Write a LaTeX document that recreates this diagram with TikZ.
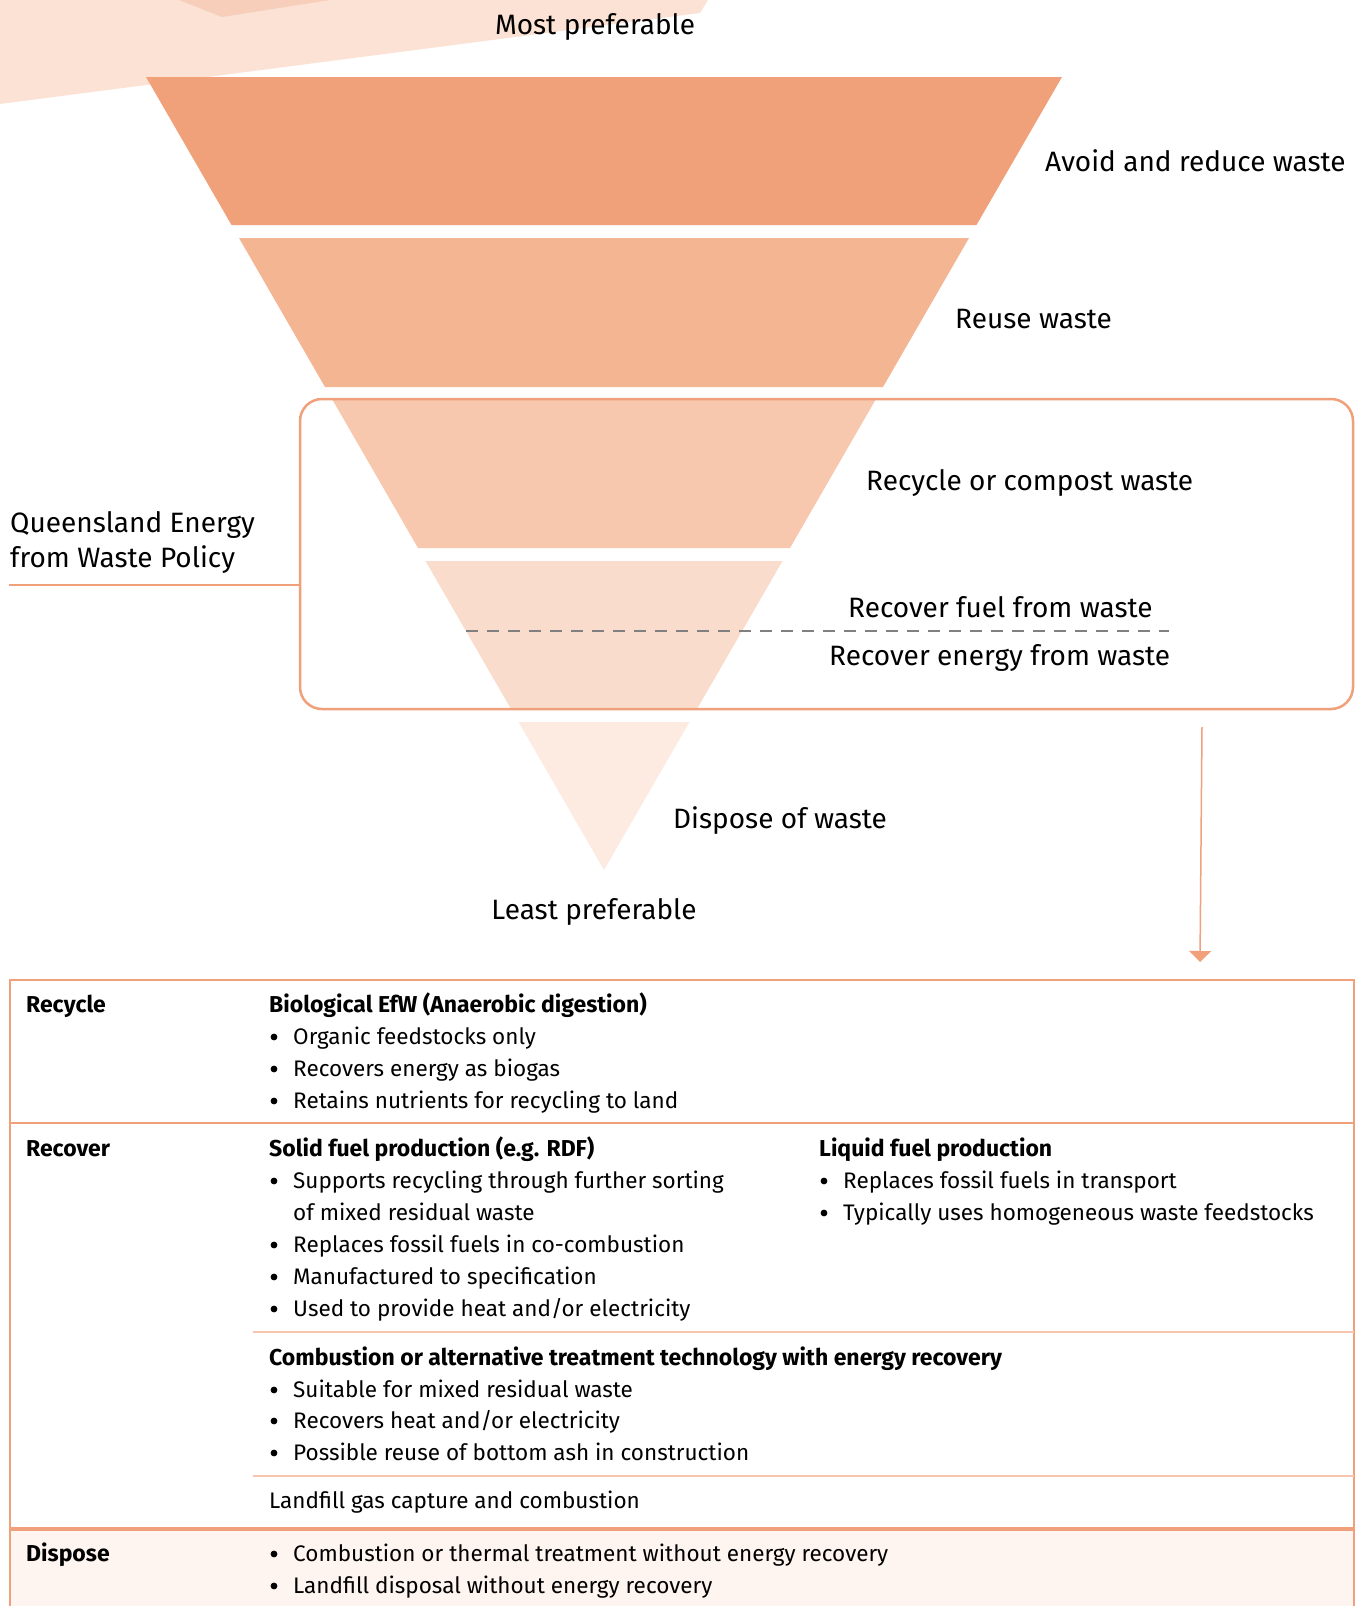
\documentclass[tikz,border=0pt]{standalone}
\usepackage{fontspec}
\setmainfont{Fira Sans}
\usetikzlibrary{arrows.meta}
\definecolor{lvla}{HTML}{F1A17A}
\definecolor{lvlb}{HTML}{F4B593}
\definecolor{lvlc}{HTML}{F7C8AD}
\definecolor{lvld}{HTML}{FADCCC}
\definecolor{lvle}{HTML}{FDEBE2}
\definecolor{qorange}{HTML}{F0A07A}
\definecolor{bgpale}{HTML}{FBE2D5}
\definecolor{bgdark}{HTML}{F7CEBA}
\definecolor{dispfill}{HTML}{FEF4F0}
\definecolor{dashgray}{HTML}{808080}

\begin{document}
\begin{tikzpicture}[x=1pt, y=-1pt, >={Triangle[width=22pt,length=11pt]},
  lbl/.style={font=\fontsize{28}{34}\selectfont, anchor=base west, inner sep=0pt},
  txt/.style={font=\fontsize{22.5}{32}\selectfont, anchor=base west, inner sep=0pt},
  hd/.style={txt, font=\fontsize{23}{32}\selectfont\bfseries},
  rule/.style={draw=qorange, line width=2.5pt},
  subrule/.style={draw=qorange!60, line width=1.5pt}]
\useasboundingbox (0,0) rectangle (1362,1606);
% shape at top left
\fill[bgpale] (0,0) -- (708,0) -- (700,13) -- (0,104) -- cycle;
\fill[bgdark] (179,0) -- (222,17) -- (330,0) -- cycle;
% pyramid
\fill[lvla] (146,77) -- (1062,77) -- (976.5,225) -- (231.5,225) -- cycle;
\fill[lvlb] (239,238) -- (969,238) -- (883,387) -- (325,387) -- cycle;
\fill[lvlc] (332,399) -- (876,399) -- (790,548) -- (418,548) -- cycle;
\fill[lvld] (425.5,561) -- (782.5,561) -- (697,709) -- (511,709) -- cycle;
\fill[lvle] (518.5,722) -- (689.5,722) -- (604,870) -- cycle;
\node[lbl, anchor=base] (most) at (595,34) {Most preferable};
\node[lbl] (avoid) at (1045,171) {Avoid and reduce waste};
\node[lbl] (reuse) at (955,328) {Reuse waste};
\node[lbl] (recyc) at (866,490) {Recycle or compost waste};
\node[lbl] (fuel) at (848,617) {Recover fuel from waste};
\node[lbl] (energy) at (829,665) {Recover energy from waste};
\node[lbl] (dispose) at (673,828) {Dispose of waste};
\node[lbl, anchor=base] (least) at (594,919) {Least preferable};
\coordinate (dsha) at (466,631);
\coordinate (dshb) at (1169,631);
\draw[dashgray, dash pattern=on 12pt off 9pt, line width=2.5pt] (dsha) -- (dshb);
% policy box
\node[draw=qorange, line width=2.5pt, rounded corners=22pt, minimum width=1053pt,
  minimum height=310pt, inner sep=0pt, outer sep=0pt, anchor=north west] (policy) at (300,399) {};
\node[lbl] (qld) at (10,532) {Queensland Energy};
\node[lbl] (qldb) at (10,567) {from Waste Policy};
\coordinate (qline) at (9,585);
\draw[qorange, line width=2.5pt] (qline) -- (qline -| policy.west);
\coordinate (arrs) at (1202,727);
\coordinate (arre) at (1200,962);
\draw[->, qorange, line width=1.5pt] (arrs) -- (arre);
% table
\fill[dispfill] (10,1529) rectangle (1354,1606);
\draw[rule] (10,1606) -- (10,980) -- (1354,980) -- (1354,1606);
\draw[rule] (10,1123) -- (1354,1123);
\draw[subrule] (253,1332) -- (1354,1332);
\draw[subrule] (253,1476) -- (1354,1476);
\draw[rule, line width=3.5pt] (10,1529) -- (1354,1529);
% recycle row
\node[hd] (trec) at (26,1012) {Recycle};
\node[hd] (bio) at (269,1012) {Biological EfW (Anaerobic digestion)};
\node[txt] (bioa) at (293,1044) {Organic feedstocks only};
\node[txt] (biob) at (293,1076) {Recovers energy as biogas};
\node[txt] (bioc) at (293,1108) {Retains nutrients for recycling to land};
% recover row
\node[hd] (trcv) at (26,1156) {Recover};
\node[hd] (solid) at (269,1156) {Solid fuel production (e.g. RDF)};
\node[txt] (solida) at (293,1188) {Supports recycling through further sorting};
\node[txt] (solidb) at (293,1220) {of mixed residual waste};
\node[txt] (solidc) at (293,1252) {Replaces fossil fuels in co-combustion};
\node[txt] (solidd) at (293,1284) {Manufactured to specification};
\node[txt] (solide) at (293,1316) {Used to provide heat and/or electricity};
\node[hd] (liq) at (819,1156) {Liquid fuel production};
\node[txt] (liqa) at (843,1188) {Replaces fossil fuels in transport};
\node[txt] (liqb) at (843,1220) {Typically uses homogeneous waste feedstocks};
\node[hd] (comb) at (269,1365) {Combustion or alternative treatment technology with energy recovery};
\node[txt] (comba) at (293,1397) {Suitable for mixed residual waste};
\node[txt] (combb) at (293,1428) {Recovers heat and/or electricity};
\node[txt] (combc) at (293,1460) {Possible reuse of bottom ash in construction};
\node[txt] (lfg) at (269,1508) {Landfill gas capture and combustion};
% dispose row
\node[hd] (tdis) at (26,1561) {Dispose};
\node[txt] (disa) at (293,1561) {Combustion or thermal treatment without energy recovery};
\node[txt] (disb) at (293,1593) {Landfill disposal without energy recovery};
% bullets
\foreach \n in {bioa,biob,bioc,solida,solidc,solidd,solide,liqa,liqb,comba,combb,combc,disa,disb}
  \fill ([shift={(-19,-7)}]\n.base west) circle (3.4pt);
\end{tikzpicture}
\end{document}
